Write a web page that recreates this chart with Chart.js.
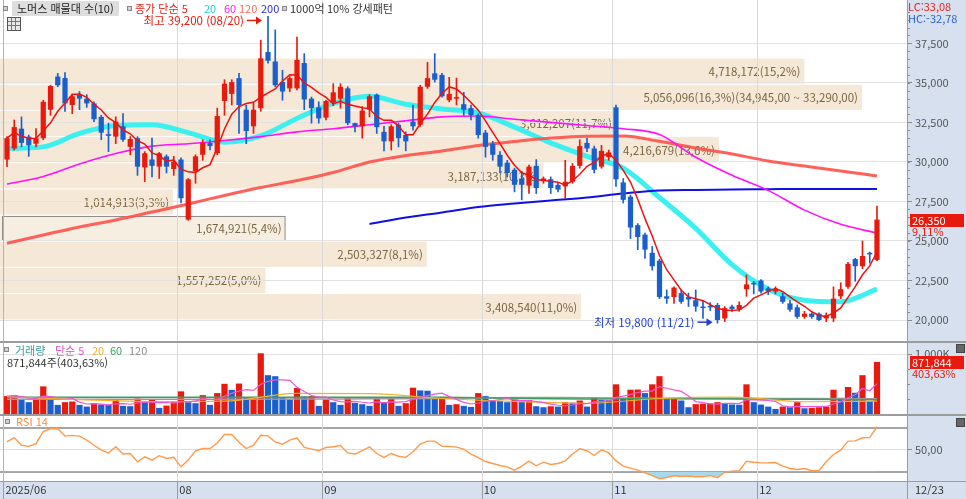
<!DOCTYPE html>
<html lang="ko">
<head>
<meta charset="utf-8">
<title>노머스 매물대</title>
<script src="https://cdn.jsdelivr.net/npm/chart.js"></script>
<style>
  html, body { margin: 0; padding: 0; background: #fff; }
  #wrap { position: relative; width: 966px; height: 499px; overflow: hidden;
          font-family: "Noto Sans CJK KR", "Noto Sans", sans-serif; font-size: 11px; color: #333; }
  #wrap canvas { position: absolute; left: 0; }
  .t { position: absolute; white-space: nowrap; line-height: 14px; height: 14px; }
  .sq { position: absolute; width: 3px; height: 3px; border: 1px solid #888; background: #d0d0d0; }
  .ico { position: absolute; width: 7px; height: 7px; background: #666; border: 1px solid #444; }
  .grid-ico { position: absolute; left: 7px; top: 17px; width: 12px; height: 12px; border: 1px solid #555; background:
      linear-gradient(#777, #777) 0 3px / 100% 1px no-repeat,
      linear-gradient(#777, #777) 0 7px / 100% 1px no-repeat,
      linear-gradient(#777, #777) 3px 0 / 1px 100% no-repeat,
      linear-gradient(#777, #777) 7px 0 / 1px 100% no-repeat, #e8e8e8; }
</style>
</head>
<body>
<div id="wrap">
  <canvas id="priceChart" width="966" height="341" style="top:0"></canvas>
  <canvas id="volChart" width="966" height="73" style="top:341px"></canvas>
  <canvas id="rsiChart" width="966" height="85" style="top:414px"></canvas>

  <!-- 가격 영역 헤더 -->
  <div class="sq" style="left:3px;top:6px"></div>
  <div class="t" style="left:12px;top:1px;width:107px;height:15px;background:#dedede"></div>
  <div class="t" style="left:17px;top:1px;color:#222">노머스 매물대 수(10)</div>
  <div class="sq" style="left:127px;top:6px"></div>
  <div class="t" style="left:135px;top:1px;color:#e8231a">종가 단순 5</div>
  <div class="t" style="left:204px;top:1px;color:#1fd2e6">20</div>
  <div class="t" style="left:224px;top:1px;color:#ee22ee">60</div>
  <div class="t" style="left:239px;top:1px;color:#f26b5e">120</div>
  <div class="t" style="left:261px;top:1px;color:#2c2cdc">200</div>
  <div class="sq" style="left:282px;top:6px"></div>
  <div class="t" style="left:290px;top:1px">1000억</div>
  <div class="t" style="left:327px;top:1px">10% 강세패턴</div>
  <div class="grid-ico"></div>
  <div class="t" id="lcText" style="left:908px;top:-1px;color:#e8231a"></div>
  <div class="t" id="hcText" style="left:908px;top:11px;color:#2a62d8"></div>

  <!-- 거래량 헤더 -->
  <div class="sq" style="left:4px;top:347px"></div>
  <div class="t" style="left:15px;top:343px;color:#3a9fa4">거래량</div>
  <div class="t" style="left:55px;top:343px;color:#e24fd0">단순 5</div>
  <div class="t" style="left:92px;top:343px;color:#f0ac2a">20</div>
  <div class="t" style="left:110px;top:343px;color:#3aa565">60</div>
  <div class="t" style="left:129px;top:343px;color:#8d8d8d">120</div>
  <div class="t" id="volInfo" style="left:7px;top:355px;color:#333"></div>
  <div class="ico" style="left:956px;top:344px"></div>

  <!-- RSI 헤더 -->
  <div class="sq" style="left:5px;top:419px"></div>
  <div class="t" style="left:16px;top:414px;color:#ff8a3d">RSI 14</div>
  <div class="ico" style="left:956px;top:418px"></div>
  <div class="t" id="lastDate" style="left:915px;top:482px;color:#333"></div>
</div>

<script>
// 거래일 (2025/06/30 ~ 12/23)
const dates = ['06/30',
  '07/01','07/02','07/03','07/04','07/07','07/08','07/09','07/10','07/11','07/14','07/15','07/16',
  '07/17','07/18','07/21','07/22','07/23','07/24','07/25','07/28','07/29','07/30','07/31',
  '08/01','08/04','08/05','08/06','08/07','08/08','08/11','08/12','08/13','08/14','08/18','08/19',
  '08/20','08/21','08/22','08/25','08/26','08/27','08/28','08/29',
  '09/01','09/02','09/03','09/04','09/05','09/08','09/09','09/10','09/11','09/12','09/15','09/16',
  '09/17','09/18','09/19','09/22','09/23','09/24','09/25','09/26','09/29','09/30',
  '10/01','10/02','10/10','10/13','10/14','10/15','10/16','10/17','10/20','10/21','10/22','10/23',
  '10/24','10/27','10/28','10/29','10/30','10/31',
  '11/03','11/04','11/05','11/06','11/07','11/10','11/11','11/12','11/13','11/14','11/17','11/18',
  '11/19','11/20','11/21','11/24','11/25','11/26','11/27','11/28',
  '12/01','12/02','12/03','12/04','12/05','12/08','12/09','12/10','12/11','12/12','12/15','12/16',
  '12/17','12/18','12/19','12/22','12/23'];

const monthStarts = ['06/30', '08/01', '09/01', '10/01', '11/03', '12/01'];
const monthLabels = ['2025/06', '08', '09', '10', '11', '12'];

const open = [30150,30850,32100,31600,31150,31500,33300,35400,35300,33600,
  34250,34000,33700,32850,31750,31600,32250,30950,31500,29650,
  30150,29700,30350,29550,30150,26350,29400,30450,31200,30550,
  33850,34300,35300,33300,32250,33400,36950,36350,35050,34650,
  34650,36250,34000,33450,32800,33750,34000,34650,32450,32250,
  33300,34250,31900,31300,32350,31700,32550,32350,34750,35600,
  35500,33900,34000,33650,33400,32950,31850,31150,30450,29950,
  29500,28950,28500,29750,28850,28900,28550,28450,28750,29750,
  31200,30850,29700,30300,33450,28700,27800,26000,25400,24250,
  23750,21500,21450,21700,21450,21250,20850,20900,20950,20100,
  20850,20650,21950,22350,22500,22000,21800,21500,21050,20800,
  20200,20400,20400,20100,20100,21500,22100,23850,23400,24250,
  23800];
const high = [31600,32650,32850,31700,32100,33900,34850,35600,35650,34300,
  34450,34250,33800,32950,32450,32850,33050,31600,31600,30650,
  31500,30600,30450,30350,30250,28950,30450,31400,31400,33400,
  35200,35200,35600,33600,33700,37700,39200,38350,35800,35400,
  37900,36850,34100,33800,33900,34950,34950,34750,32450,33500,
  34250,34300,32250,32350,32450,31900,33600,34850,36300,36850,
  35600,35350,35300,34400,33600,33050,32000,31300,30650,30100,
  29600,29400,29800,30150,29050,29050,28700,30100,29900,31400,
  31500,31000,31050,30750,33600,28950,27900,26100,25500,24650,
  23850,21900,22100,21900,21700,21900,21250,21100,21050,20850,
  20950,21150,22850,22450,22550,22100,22100,21700,21250,20950,
  20550,20450,20450,20450,22100,22350,23650,23900,25000,24300,
  27200];
const low = [29700,30750,30950,30350,30950,31400,32950,34750,33200,33050,
  33300,33450,32550,31400,30650,31150,31300,30450,29150,28750,
  29050,28950,29300,29150,27400,26300,28650,30100,30750,30450,
  32950,33600,31800,31150,31800,33200,36250,34750,33900,34450,
  34550,33300,32450,32450,32650,33550,33400,32350,31900,31500,
  32850,31800,30700,30750,30950,30700,32000,32250,34650,35050,
  34100,33800,33600,32950,32650,31500,30300,30100,29300,29050,
  28100,27600,28000,28000,28650,28000,28100,27700,28650,29600,
  30650,29300,29600,30100,28450,27400,25150,24450,23900,23150,
  21350,21050,21050,21050,20850,20550,20100,20600,19800,19900,
  20550,20550,21500,21650,21700,21600,21650,21050,20550,20100,
  20100,20100,19950,19900,19900,21350,22000,22450,23250,23600,
  23750];
const close = [31500,32200,31200,31050,31500,33800,34800,34850,33700,34150,
  34000,33700,32700,31850,31650,32550,31400,31450,29700,30550,
  29750,30550,29700,30000,27700,28900,30350,31200,31000,32900,
  34950,35050,33600,31950,33300,36550,36400,34850,34450,35300,
  36450,33950,33400,32750,33850,34400,34750,32450,32250,33250,
  34150,32200,31300,32250,31500,31300,32250,34750,35300,35200,
  34150,34300,34100,33300,32950,31700,30950,30450,29700,29300,
  28550,28550,29700,28350,28950,28350,28250,28750,29750,31000,
  30850,29500,30700,30600,28900,27600,25850,25250,24450,23400,
  21450,21350,22050,21150,21300,20850,20750,20800,20000,20750,
  20700,20950,22250,22250,21800,21800,21950,21150,20650,20200,
  20400,20200,20000,20300,21350,21950,23550,23400,24050,24150,
  26350];

// 이동평균 (5거래일 간격으로 읽은 값)
const MA_STEP = 5;
const ma20 = [30850,30950,31800,32300,32350,31850,31250,31650,32750,33700,34150,33650,33350,
  33100,32200,31200,30350,29600,27750,25800,23500,21950,21250,21150,21950];
const ma60 = [28600,29080,29870,30530,31000,31150,31350,31600,31900,32100,32350,32600,32850,
  32900,32700,32500,32300,32100,31730,30290,29150,28200,26950,26050,25500];
const ma120 = [24850,25380,25880,26330,26830,27340,27880,28380,28820,29330,29990,30400,30690,
  31040,31290,31510,31630,31640,31300,30880,30500,30060,29740,29420,29110];
const ma200 = [null,null,null,null,null,null,null,null,null,null,26070,26480,26800,
  27150,27370,27560,27750,28000,28190,28220,28250,28270,28290,28290,28290];

const volume = [300000,316000,254000,198000,265000,463000,282000,153000,198000,209000,
  153000,124000,181000,158000,150000,243000,136000,130000,260000,215000,
  243000,102000,141000,198000,379000,198000,181000,316000,153000,350000,
  506000,405000,510000,270000,285000,1017000,650000,633000,277000,243000,
  435000,294000,300000,136000,243000,198000,153000,282000,186000,164000,
  136000,254000,198000,265000,136000,181000,441000,395000,390000,254000,
  265000,153000,164000,136000,119000,350000,300000,226000,220000,198000,
  243000,226000,235000,130000,113000,130000,124000,198000,190000,226000,
  124000,282000,237000,232000,497000,254000,407000,410000,350000,497000,
  633000,265000,270000,226000,113000,165000,172000,178000,198000,180000,
  160000,155000,497000,198000,158000,124000,85000,124000,113000,198000,
  96000,100000,113000,124000,407000,271000,452000,356000,650000,216000,
  871844];

// 거래량 이동평균 (10거래일 간격으로 읽은 값)
const VOL_MA_STEP = 10;
const volMa20 = [290000,240000,208000,215000,345000,340000,260000,210000,180000,260000,283000,205000,215000];
const volMa60 = [280000,280000,280000,281000,282000,281000,280000,262000,252000,255000,252000,245000,240000];
const volMa120 = [248000,247000,246000,248000,250000,254000,258000,278000,272000,265000,262000,258000,255000];

const rsi14 = [57,61,54,53,55.5,66.5,69,69,62.3,63,
  62.3,58.6,54,49.5,47,52.6,46,46.5,39,43.5,
  40.5,44.5,42,43,34.4,40.5,49,51,51,56,
  63.8,63.8,56.8,51,54,63,62.5,57,55,58.6,
  60.8,52,50.5,49,52,52.6,53.8,47,46,49,
  52.6,46.5,43,46.5,44,43,48,55,57.7,57.7,
  53,53,52.3,50.5,46,42.7,39.2,37.4,35.6,34.4,
  31.4,35,39.5,35.3,38.6,36.5,37.4,39.8,46,50.8,
  49,44.7,49.8,47,39.8,35,33.2,31.4,29,26.3,
  23.5,24.7,26.3,25.6,26,25.3,25.3,26.5,24.4,29.6,
  30.3,30.8,39.5,38.6,38,38,38.3,35,32.9,32,
  32.9,30.8,31,39,45.6,49.5,57.7,58,60.8,61,
  70.8];

// 매물대 10구간
const bandEdges = [20050,21705,23360,25015,26670,28325,29980,31635,33290,34945,36600];
const bandVolume = [3408540,1557252,2503327,1674921,1014913,3187133,4216679,3612207,5056096,4718172];

const priceTicks = [20000,22500,25000,27500,30000,32500,35000,37500];
const rsiLevels = [30, 50, 70];

// ---- 스타일 ----
const FONT = '"Noto Sans CJK KR", "Noto Sans", sans-serif';
const RED = '#e8190d', BLUE = '#1a5fcc';
const GRID = '#e2e2e2', MONTH_LINE = '#d9d9d9', AXIS_BG = '#d6e0ee', SEP = '#9c9c9c';
const BAND_FILL = '#f5e8d6', BAND_TEXT = '#7a6642';
const X_MIN = -0.966, X_MAX = 124.14;
const PRICE_MIN = 18672, PRICE_MAX = 40240;
const BAND_AXIS_MAX = 5320000;

Chart.defaults.font.family = FONT;
Chart.defaults.font.size = 11;
Chart.defaults.color = '#555';

const monthIdx = monthStarts.map(d => dates.indexOf(d));
const last = close.length - 1;
const fmt = v => v.toLocaleString('en-US');
const pct = v => v.toFixed(2).replace('.', ',') + '%';

function sma(vals, n) {
  return vals.map((v, i) => {
    const win = vals.slice(Math.max(0, i - n + 1), i + 1);
    return { x: i, y: win.reduce((s, w) => s + w, 0) / win.length };
  });
}
const sampled = (vals, step) => vals.map((v, k) => ({ x: k * step, y: v }));

function axisFit(s) { s.width = 59; s.paddingTop = 0; s.paddingBottom = 0; }

function drawBands(chart) {
  const { ctx, chartArea: a, scales: { y, xp } } = chart;
  const total = bandVolume.reduce((s, v) => s + v, 0);
  const maxVol = Math.max(...bandVolume);
  ctx.save();
  ctx.font = '11.5px ' + FONT;
  ctx.textAlign = 'right';
  ctx.textBaseline = 'middle';
  bandVolume.forEach((v, k) => {
    const top = y.getPixelForValue(bandEdges[k + 1]);
    const bot = y.getPixelForValue(bandEdges[k]);
    const right = xp.getPixelForValue(v);
    const isCur = close[last] >= bandEdges[k] && close[last] < bandEdges[k + 1];
    ctx.fillStyle = isCur ? '#f7eee2' : BAND_FILL;
    ctx.fillRect(a.left, top + 1, right - a.left, bot - top - 1);
    if (isCur) {
      ctx.strokeStyle = '#8e8e8e';
      ctx.lineWidth = 1;
      ctx.strokeRect(a.left + 2.5, Math.round(top) + 1.5, right - a.left - 3, Math.round(bot - top) - 2);
    }
    let txt = fmt(v) + '(' + (v / total * 100).toFixed(1).replace('.', ',') + '%)';
    if (v === maxVol) txt += '(' + fmt(bandEdges[k + 1]) + ',00 ~ ' + fmt(bandEdges[k]) + ',00)';
    ctx.fillStyle = BAND_TEXT;
    ctx.fillText(txt, right - 4, (top + bot) / 2 + 1);
  });
  ctx.restore();
}

function arrowLabel(ctx, text, tipX, cy, color) {
  ctx.save();
  ctx.fillStyle = color;
  ctx.strokeStyle = color;
  ctx.lineWidth = 1.5;
  ctx.beginPath(); ctx.moveTo(tipX - 15, cy); ctx.lineTo(tipX - 5, cy); ctx.stroke();
  ctx.beginPath(); ctx.moveTo(tipX, cy); ctx.lineTo(tipX - 6, cy - 4); ctx.lineTo(tipX - 6, cy + 4);
  ctx.closePath(); ctx.fill();
  ctx.font = '11.5px ' + FONT;
  ctx.textAlign = 'right';
  ctx.textBaseline = 'middle';
  ctx.fillText(text, tipX - 18, cy);
  ctx.restore();
}

function valueBox(ctx, left, yc, text, sub) {
  ctx.save();
  ctx.fillStyle = RED;
  ctx.fillRect(left + 3, yc - 6, 54, 13);
  ctx.font = '11px ' + FONT;
  ctx.textAlign = 'left';
  ctx.textBaseline = 'middle';
  ctx.fillStyle = '#fff';
  ctx.fillText(text, left + 5, yc + 0.5);
  ctx.fillStyle = RED;
  ctx.fillText(sub, left + 5, yc + 12);
  ctx.restore();
}

function drawPriceExtras(chart) {
  const { ctx, chartArea: a, scales: { x, y } } = chart;
  const hi = Math.max(...high), lo = Math.min(...low);
  const hiIdx = high.indexOf(hi), loIdx = low.indexOf(lo);
  arrowLabel(ctx, '최고 ' + fmt(hi) + ' (' + dates[hiIdx] + ')',
    x.getPixelForValue(hiIdx) - 6, y.getPixelForValue(hi) + 4, RED);
  arrowLabel(ctx, '최저 ' + fmt(lo) + ' (' + dates[loIdx] + ')',
    x.getPixelForValue(loIdx) - 5, y.getPixelForValue(lo) - 1, '#1f3fd8');
  valueBox(ctx, a.right, Math.round(y.getPixelForValue(close[last])), fmt(close[last]),
    pct(close[last] / close[last - 1] * 100 - 100));
}

function drawVolExtras(chart) {
  const { ctx, chartArea: a, scales: { y } } = chart;
  valueBox(ctx, a.right, Math.round(y.getPixelForValue(volume[last])), fmt(volume[last]),
    pct(volume[last] / volume[last - 1] * 100));
}

const hts = {
  id: 'hts',
  beforeDraw(chart, args, o) {
    const { ctx, chartArea: a, width, height } = chart;
    ctx.save();
    ctx.fillStyle = AXIS_BG;
    ctx.fillRect(a.right, 0, width - a.right, height);
    if (o.dateBand) ctx.fillRect(0, a.bottom, width, height - a.bottom);
    ctx.restore();
    if (o.bands) drawBands(chart);
  },
  beforeDatasetsDraw(chart) {
    const { ctx, chartArea: a, scales } = chart;
    ctx.save();
    ctx.lineWidth = 1;
    monthIdx.forEach((i, k) => {
      const px = Math.round(scales.x.getPixelForValue(i - 0.5)) + 0.5;
      ctx.strokeStyle = k === 0 ? '#b4b4b4' : MONTH_LINE;
      ctx.beginPath(); ctx.moveTo(px, a.top); ctx.lineTo(px, a.bottom); ctx.stroke();
    });
    ctx.restore();
  },
  afterDraw(chart, args, o) {
    const { ctx, chartArea: a, width, height, scales } = chart;
    ctx.save();
    ctx.strokeStyle = '#8a8a8a';
    ctx.lineWidth = 1;
    if (o.minor) {
      for (let v = o.minor.from; v <= o.minor.to; v += o.minor.step) {
        const py = Math.round(scales.y.getPixelForValue(v)) + 0.5;
        ctx.beginPath(); ctx.moveTo(a.right, py); ctx.lineTo(a.right + 3, py); ctx.stroke();
      }
    }
    ctx.strokeStyle = SEP;
    ctx.beginPath(); ctx.moveTo(a.right + 0.5, 0); ctx.lineTo(a.right + 0.5, height); ctx.stroke();
    if (o.topLine) {
      ctx.lineWidth = 2;
      ctx.beginPath(); ctx.moveTo(0, 1); ctx.lineTo(width, 1); ctx.stroke();
    }
    if (o.dateBand) {
      ctx.lineWidth = 1;
      ctx.beginPath(); ctx.moveTo(0, a.bottom + 0.5); ctx.lineTo(width, a.bottom + 0.5); ctx.stroke();
      monthIdx.forEach(i => {
        const px = Math.round(scales.x.getPixelForValue(i - 0.5)) + 0.5;
        ctx.beginPath(); ctx.moveTo(px, a.bottom); ctx.lineTo(px, height); ctx.stroke();
      });
    }
    ctx.restore();
    if (o.extra) o.extra(chart);
  }
};

const noUi = { legend: { display: false }, tooltip: { enabled: false } };
const xLinear = { type: 'linear', min: X_MIN, max: X_MAX, offset: false, display: false };
const candleColors = close.map((c, i) => (c >= open[i] ? RED : BLUE));
const volColors = volume.map((v, i) => (i === 0 || v >= volume[i - 1] ? RED : BLUE));

const maLine = (data, color, width, order, smooth) => ({
  type: 'line', data, borderColor: color, borderWidth: width, pointRadius: 0,
  order, spanGaps: false, cubicInterpolationMode: smooth ? 'monotone' : 'default', tension: 0
});

// ---- 가격 ----
new Chart(document.getElementById('priceChart'), {
  type: 'bar',
  data: {
    datasets: [
      maLine(sma(close, 5), '#f01010', 1.5, 0, false),
      { type: 'bar', data: dates.map((d, i) => ({ x: i, y: [open[i], close[i]] })),
        backgroundColor: candleColors, barPercentage: 0.72, categoryPercentage: 1,
        grouped: false, minBarLength: 1, order: 1 },
      { type: 'bar', data: dates.map((d, i) => ({ x: i, y: [low[i], high[i]] })),
        backgroundColor: candleColors, barThickness: 1, grouped: false, order: 2 },
      maLine(sampled(ma60, MA_STEP), '#ff10ff', 1.6, 3, true),
      maLine(sampled(ma200, MA_STEP), '#1010e6', 2, 4, true),
      maLine(sampled(ma120, MA_STEP), 'rgba(255,80,72,0.9)', 3, 5, true),
      maLine(sampled(ma20, MA_STEP), '#3cf0f0', 5, 6, true)
    ]
  },
  options: {
    responsive: false, animation: false, events: [],
    layout: { padding: 0 },
    plugins: { ...noUi, hts: { bands: true, minor: { from: 20000, to: 39500, step: 500 }, extra: drawPriceExtras } },
    scales: {
      x: xLinear,
      xp: { type: 'linear', min: 0, max: BAND_AXIS_MAX, offset: false, display: false },
      y: { position: 'right', min: PRICE_MIN, max: PRICE_MAX,
        afterBuildTicks: s => { s.ticks = priceTicks.map(v => ({ value: v })); },
        afterFit: axisFit,
        ticks: { callback: v => fmt(v), padding: 3, color: '#555' },
        grid: { color: GRID, tickColor: '#8a8a8a', tickLength: 5 },
        border: { color: SEP } }
    }
  },
  plugins: [hts]
});

// ---- 거래량 ----
new Chart(document.getElementById('volChart'), {
  type: 'bar',
  data: {
    datasets: [
      maLine(sma(volume, 5), '#f055d8', 1.2, 1, false),
      maLine(sampled(volMa20, VOL_MA_STEP), '#f5b02a', 1.2, 2, true),
      maLine(sampled(volMa60, VOL_MA_STEP), '#3aa060', 1.5, 3, true),
      maLine(sampled(volMa120, VOL_MA_STEP), '#9a9a9a', 1.5, 4, true),
      { type: 'bar', data: volume.map((v, i) => ({ x: i, y: v })), backgroundColor: volColors,
        barPercentage: 0.86, categoryPercentage: 1, grouped: false, order: 5 }
    ]
  },
  options: {
    responsive: false, animation: false, events: [],
    layout: { padding: 0 },
    plugins: { ...noUi, hts: { topLine: true, minor: { from: 250000, to: 750000, step: 250000 }, extra: drawVolExtras } },
    scales: {
      x: xLinear,
      y: { position: 'right', min: 0, max: 1222800,
        afterBuildTicks: s => { s.ticks = [{ value: 1000000 }]; },
        afterFit: axisFit,
        ticks: { callback: v => fmt(v / 1000) + 'K', padding: 3, color: '#555' },
        grid: { color: GRID, tickColor: '#8a8a8a', tickLength: 5 },
        border: { color: SEP } }
    }
  },
  plugins: [hts]
});

// ---- RSI ----
new Chart(document.getElementById('rsiChart'), {
  type: 'line',
  data: {
    datasets: [{
      data: rsi14.map((v, i) => ({ x: i, y: v })),
      borderColor: '#ff9a4a', borderWidth: 1.4, pointRadius: 0, tension: 0,
      fill: { target: { value: 30 }, above: 'rgba(0,0,0,0)', below: '#a6d9ee' }
    }]
  },
  options: {
    responsive: false, animation: false, events: [],
    layout: { padding: 0 },
    plugins: { ...noUi, hts: { topLine: true, dateBand: true } },
    scales: {
      x: { type: 'linear', min: X_MIN, max: X_MAX, offset: false, position: 'bottom',
        afterBuildTicks: s => { s.ticks = monthIdx.map(i => ({ value: i - 0.5 })); },
        afterFit: s => { s.height = 18; s.paddingLeft = 0; s.paddingRight = 0; },
        ticks: { autoSkip: false, maxRotation: 0, align: 'start', labelOffset: 2, padding: 2,
          color: '#333', callback: (v, k) => monthLabels[k] },
        grid: { display: false, drawTicks: false }, border: { display: false } },
      y: { position: 'right', min: 21.5, max: 82.4,
        afterBuildTicks: s => { s.ticks = rsiLevels.map(v => ({ value: v })); },
        afterFit: axisFit,
        ticks: { callback: v => (v === 50 ? '50,00' : ''), padding: 3, color: '#555' },
        grid: {
          color: c => (c.tick && c.tick.value === 50 ? '#dedede' : '#a5a5a5'),
          lineWidth: c => (c.tick && c.tick.value === 50 ? 1 : 2),
          tickColor: c => (c.tick && c.tick.value === 50 ? '#8a8a8a' : 'rgba(0,0,0,0)'),
          tickLength: 5 },
        border: { color: SEP } }
    }
  },
  plugins: [hts]
});

// 헤더 수치
const hiAll = Math.max(...high), loAll = Math.min(...low);
document.getElementById('lcText').textContent = 'LC:' + (close[last] / loAll * 100 - 100).toFixed(2).replace('.', ',');
document.getElementById('hcText').textContent = 'HC:' + (close[last] / hiAll * 100 - 100).toFixed(2).replace('.', ',');
document.getElementById('volInfo').textContent = fmt(volume[last]) + '주(' + pct(volume[last] / volume[last - 1] * 100) + ')';
document.getElementById('lastDate').textContent = dates[last];
</script>
</body>
</html>
